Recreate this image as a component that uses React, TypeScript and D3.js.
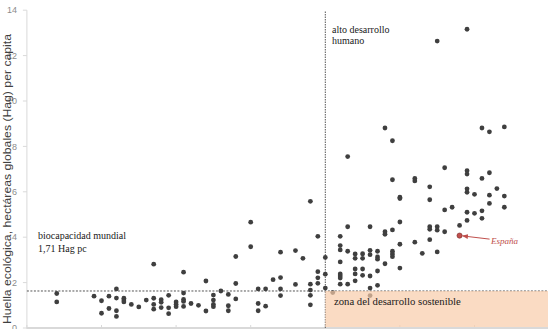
import React from 'react';
import * as d3 from 'd3';

const W = 548;
const H = 329;

// Y axis ticks (Hag per capita)
const yTicks = [0, 2, 4, 6, 8, 10, 12, 14];
// X axis ticks (development index, unlabelled)
const xTicks = [0.4, 0.5, 0.6, 0.7, 0.8, 0.9, 1.0, 1.1];

// Each country: development index (x) and ecological footprint (y)
const devIndex = [
  0.44, 0.44,
  0.49,
  0.50, 0.50,
  0.51, 0.51,
  0.52, 0.52, 0.52, 0.52,
  0.53, 0.53, 0.53,
  0.54,
  0.55,
  0.56,
  0.57, 0.57, 0.57, 0.57,
  0.58, 0.58, 0.58,
  0.59, 0.59, 0.59,
  0.60, 0.60, 0.60,
  0.61, 0.61, 0.61, 0.61, 0.61,
  0.62,
  0.63,
  0.64, 0.64,
  0.65, 0.65, 0.65, 0.65,
  0.66,
  0.67, 0.67, 0.67,
  0.68, 0.68, 0.68,
  0.70, 0.70,
  0.71, 0.71, 0.71,
  0.72, 0.72,
  0.73,
  0.74, 0.74, 0.74, 0.74,
  0.76, 0.76,
  0.77,
  0.78, 0.78, 0.78, 0.78, 0.78,
  0.79, 0.79, 0.79, 0.79,
  0.80, 0.80, 0.80,
  0.81,
  0.82, 0.82, 0.82, 0.82, 0.82, 0.82, 0.82, 0.82,
  0.83, 0.83, 0.83, 0.83,
  0.84, 0.84, 0.84, 0.84, 0.84,
  0.85, 0.85, 0.85, 0.85,
  0.86, 0.86, 0.86, 0.86, 0.86, 0.86,
  0.87, 0.87, 0.87, 0.87, 0.87,
  0.88, 0.88, 0.88, 0.88,
  0.89, 0.89, 0.89, 0.89, 0.89, 0.89,
  0.90, 0.90, 0.90, 0.90, 0.90,
  0.92, 0.92, 0.92,
  0.93,
  0.94, 0.94, 0.94, 0.94, 0.94,
  0.95, 0.95, 0.95, 0.95,
  0.96, 0.96, 0.96,
  0.97,
  0.98,
  0.99, 0.99, 0.99, 0.99, 0.99, 0.99, 0.99,
  1.00, 1.00,
  1.01, 1.01, 1.01, 1.01,
  1.02, 1.02, 1.02, 1.02,
  1.03,
  1.04, 1.04, 1.04,
];

const footprint = [
  1.52, 1.15,
  1.40,
  1.20, 0.65,
  1.40, 0.86,
  1.72, 1.32, 0.76, 0.51,
  1.31, 1.23, 1.15,
  1.04,
  0.93,
  1.23,
  2.81, 1.31, 1.04, 0.83,
  1.25, 1.13, 0.90,
  1.44, 0.89, 0.63,
  1.15, 1.04, 0.94,
  2.46, 1.54, 1.26, 1.17, 0.95,
  1.08,
  1.00,
  2.07, 0.75,
  1.45, 1.23, 1.04, 0.94,
  1.63,
  1.48, 0.98, 0.76,
  3.15, 1.96, 1.28,
  4.66, 3.58,
  1.72, 1.08, 0.76,
  1.72, 0.96,
  2.13,
  3.34, 2.22, 1.72, 1.43,
  3.41, 1.92,
  3.07,
  5.58, 1.93, 1.67, 1.44, 1.02,
  4.04, 2.48, 2.21, 1.97,
  3.11, 2.37, 1.76,
  1.56,
  4.04, 3.63, 3.44, 2.91, 2.38, 2.29, 2.20, 1.93,
  7.55, 4.46, 3.38, 1.93,
  3.26, 3.07, 2.60, 2.38, 2.08,
  3.27, 3.07, 2.60, 2.32,
  4.46, 3.42, 3.23, 2.29, 1.76, 1.43,
  3.38, 3.13, 3.03, 2.51, 1.88,
  8.81, 4.24, 4.13, 2.83,
  8.25, 6.53, 4.32, 3.38, 3.26, 3.14,
  5.76, 5.70, 4.67, 3.69, 2.64,
  6.59, 6.48, 3.78,
  3.29,
  6.22, 5.65, 4.46, 4.35, 3.89,
  12.64, 4.46, 4.31, 3.35,
  7.06, 5.20, 4.24,
  5.32,
  4.52,
  13.16, 6.93, 6.78, 6.13, 5.98, 5.10, 4.74,
  5.89, 5.05,
  8.81, 6.59, 5.16, 4.83,
  8.64, 6.84, 5.85, 5.49,
  6.14,
  8.86, 5.81, 5.32,
];

// Highlighted country
const spainIndex = 0.98;
const spainFootprint = 4.07;

// Reference lines
const highDevelopment = 0.8;
const biocapacityLine = 1.63;

export default function App() {
  const x = d3.scaleLinear().domain([0.4, 1.1]).range([26.9, 549.1]);
  const y = d3.scaleLinear().domain([0, 14]).range([328, 10.2]);

  const points = devIndex.map((d, i) => ({ x: d, y: footprint[i] }));

  const x0 = x(0.4);
  const yBottom = y(0);
  const yBio = y(biocapacityLine);
  const xHigh = x(highDevelopment);

  const sx = x(spainIndex);
  const sy = y(spainFootprint);

  const serif = '"Liberation Serif", "DejaVu Serif", serif';
  const sans = '"Liberation Sans", "DejaVu Sans", sans-serif';

  return (
    <svg
      width={W}
      height={H}
      style={{ position: 'absolute', left: 0, top: 0, background: '#fff' }}
    >
      <defs>
        <marker
          id="arrowRed"
          viewBox="0 0 10 10"
          refX="9"
          refY="5"
          markerWidth="6"
          markerHeight="6"
          orient="auto"
        >
          <path d="M0,1 L10,5 L0,9 z" fill="#c0504d" />
        </marker>
      </defs>

      {/* Y axis */}
      <line x1={x0} x2={x0} y1={y(14)} y2={yBottom} stroke="#d9d9d9" strokeWidth={1} />
      {yTicks.map((t) => (
        <g key={t}>
          <line x1={x0 - 4} x2={x0} y1={y(t)} y2={y(t)} stroke="#d9d9d9" strokeWidth={1} />
          <text
            x={17}
            y={y(t)}
            dy="0.35em"
            textAnchor="end"
            fontFamily={sans}
            fontSize={9}
            fill="#8c8c8c"
          >
            {t}
          </text>
        </g>
      ))}

      {/* X axis */}
      <line x1={x0} x2={W} y1={yBottom} y2={yBottom} stroke="#d9d9d9" strokeWidth={2} />
      {xTicks.map((t) => (
        <line key={t} x1={x(t)} x2={x(t)} y1={yBottom - 3} y2={yBottom + 3} stroke="#d9d9d9" strokeWidth={1} />
      ))}

      {/* Y title */}
      <text
        transform={`translate(11,${179}) rotate(-90)`}
        textAnchor="middle"
        fontFamily={sans}
        fontSize={11}
        textLength={290}
        lengthAdjust="spacingAndGlyphs"
        fill="#404040"
      >
        Huella ecológica, hectáreas globales (Hag) per capita
      </text>

      {/* Reference lines */}
      <line x1={x0} x2={W} y1={yBio} y2={yBio} stroke="#555" strokeWidth={1} strokeDasharray="2,1.5" />
      <line x1={xHigh} x2={xHigh} y1={11.5} y2={yBottom} stroke="#555" strokeWidth={1} strokeDasharray="1.5,1" />

      {/* Points */}
      {points.map((p, i) => (
        <circle key={i} cx={x(p.x)} cy={y(p.y)} r={2.4} fill="#3f3f3f" />
      ))}
      <circle cx={sx} cy={sy} r={2.6} fill="#c0504d" stroke="#7a2a28" strokeWidth={0.6} />

      {/* Sustainable development zone */}
      <rect
        x={xHigh}
        y={yBio}
        width={W - xHigh}
        height={yBottom - 1 - yBio}
        fill="rgb(248,204,170)"
        fillOpacity={0.7}
      />

      {/* Annotations */}
      <text x={38} y={239} fontFamily={serif} fontSize={10} fill="#1a1a1a">
        biocapacidad mundial
      </text>
      <text x={38} y={252} fontFamily={serif} fontSize={10} fill="#1a1a1a">
        1,71 Hag pc
      </text>
      <text x={332} y={32.5} fontFamily={serif} fontSize={10} fill="#1a1a1a">
        alto desarrollo
      </text>
      <text x={332} y={44} fontFamily={serif} fontSize={10} fill="#1a1a1a">
        humano
      </text>
      <text x={334} y={305} fontFamily={serif} fontSize={10.7} fill="#1a1a1a">
        zona del desarrollo sostenible
      </text>

      {/* España label with arrow */}
      <line
        x1={sx + 30}
        y1={sy + 3.5}
        x2={sx + 3}
        y2={sy + 0.3}
        stroke="#c0504d"
        strokeWidth={1}
        markerEnd="url(#arrowRed)"
      />
      <text x={491} y={243.5} fontFamily={serif} fontSize={9} fontStyle="italic" fill="#c0504d">
        España
      </text>
    </svg>
  );
}
